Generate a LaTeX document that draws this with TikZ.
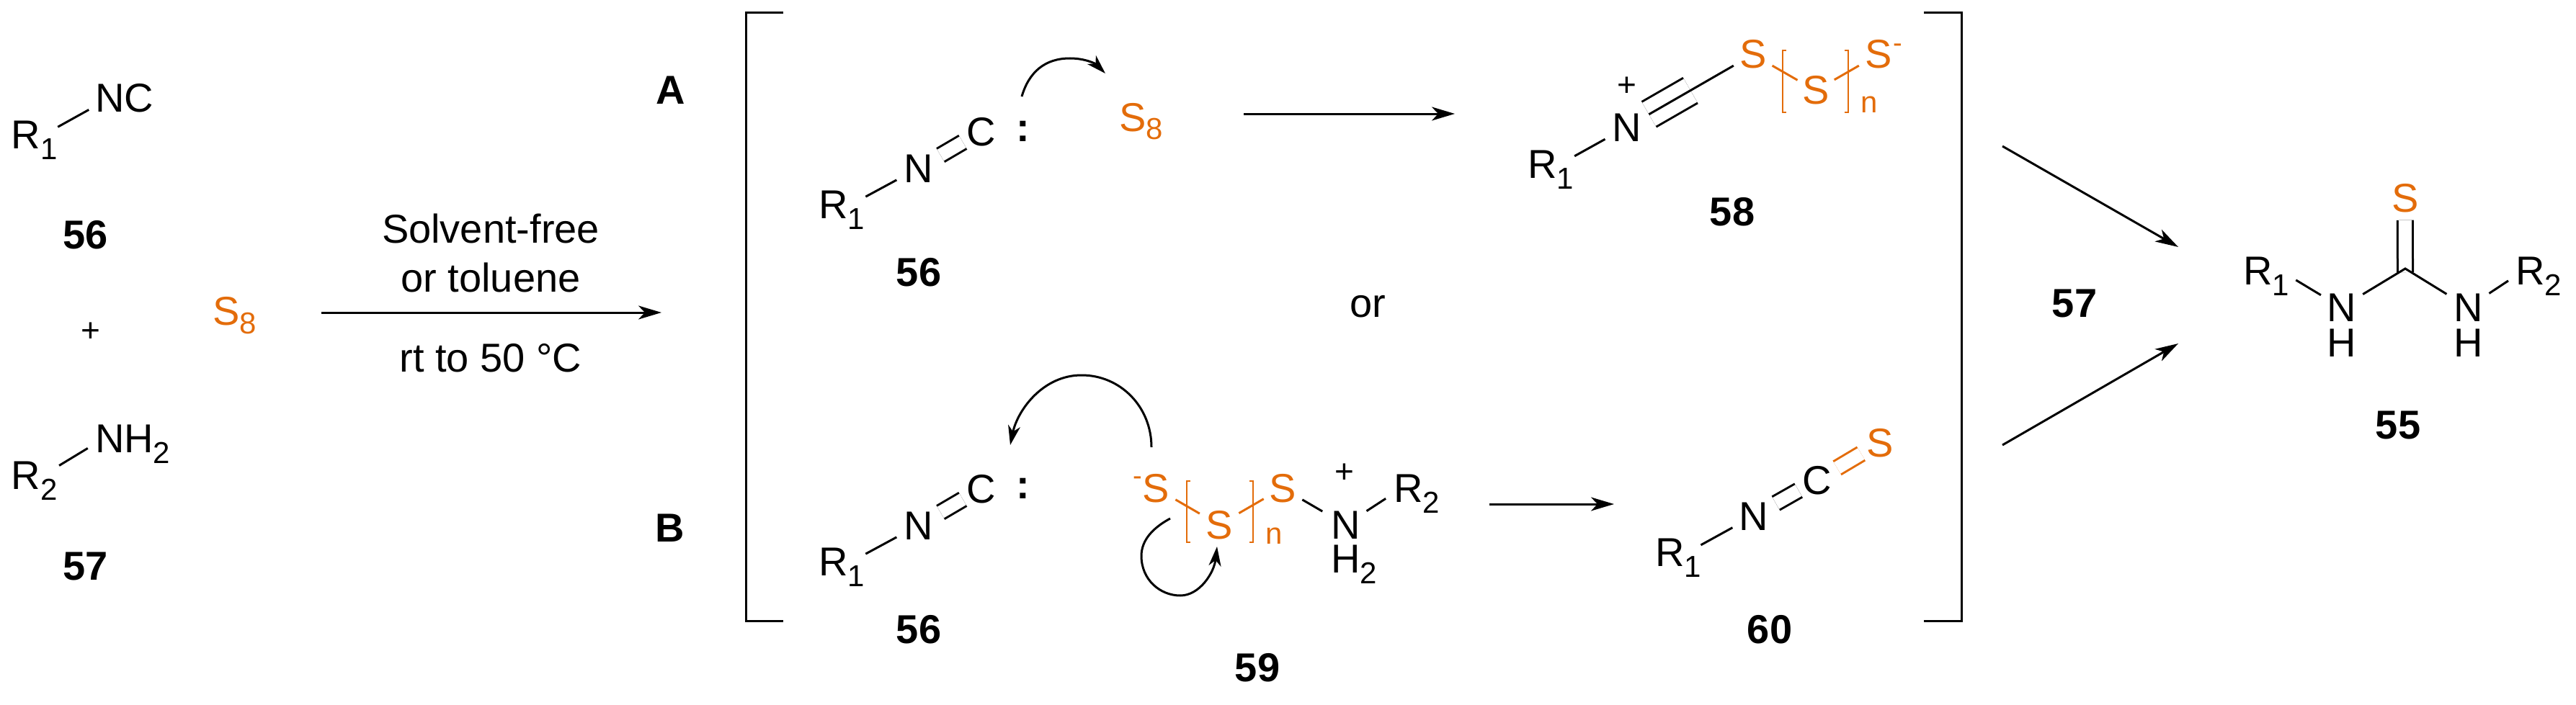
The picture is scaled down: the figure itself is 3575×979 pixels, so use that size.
\documentclass[tikz,border=0pt]{standalone}
\usepackage{fontspec}
\setmainfont{Liberation Sans}
\usetikzlibrary{arrows.meta}
\definecolor{sulfur}{HTML}{E36C0A}
\newcommand{\chemsize}{\fontsize{56}{60}\selectfont}
\newcommand{\subsize}{\fontsize{42}{42}\selectfont}
\newcommand{\sbs}[1]{\raisebox{-15pt}{\subsize #1}}
\newcommand{\sbe}[1]{\raisebox{-12pt}{\subsize #1}}
\newcommand{\bnd}[5][]{\draw[bond,shorten <=#4pt,shorten >=#5pt,#1] (#2) -- (#3);}
\tikzset{
  atom/.style={anchor=base west,inner sep=0pt,outer sep=0pt,font=\chemsize},
  sulfuratom/.style={atom,text=sulfur},
  cmpd/.style={anchor=base,inner sep=0pt,outer sep=0pt,font=\chemsize\bfseries},
  plain/.style={anchor=base,inner sep=0pt,outer sep=0pt,font=\chemsize},
  plusmark/.style={anchor=base,inner sep=0pt,outer sep=0pt,font=\fontsize{46}{46}\selectfont},
  pairdots/.style={anchor=base,inner sep=0pt,outer sep=0pt,font=\chemsize\bfseries},
  idx/.style={anchor=base west,inner sep=0pt,outer sep=0pt,font=\subsize,text=sulfur},
  bond/.style={line width=3pt},
  dbond/.style={line width=3pt,double,double distance=18pt},
  sbond/.style={draw=sulfur,line width=3pt},
  sdbond/.style={line width=3pt,draw=sulfur,double,double distance=18pt},
  polybr/.style={draw=sulfur,line width=2.6pt},
  bracket/.style={line width=3pt},
  rxn/.style={line width=3pt,-{Stealth[length=32pt,width=19pt,inset=9pt]}},
  curly/.style={line width=3pt,-{Stealth[length=27pt,width=17pt,inset=8pt]}}
}
\begin{document}
\begin{tikzpicture}[x=1pt,y=-1pt]
\useasboundingbox (0,0) rectangle (3575,979);

% ---- left column
\node[atom] (ra) at (16,206) {R\sbs{1}};
\node[atom] (nc) at (132,156) {NC};
\bnd{ra.center}{nc.195}{37}{10}
\node[cmpd] (la) at (119,345) {56};
\node[plusmark] (pl) at (126,474) {+};
\node[sulfuratom] (sa) at (295,451) {S\sbe{8}};
\node[atom] (rb) at (16,679) {R\sbs{2}};
\node[atom] (nh) at (132,628) {NH\sbs{2}};
\bnd{rb.center}{nh.west}{40}{12}
\node[cmpd] (lb) at (119,805) {57};

% ---- conditions
\coordinate (m1) at (446,434);
\coordinate (m2) at (918,434);
\draw[rxn] (m1) -- (m2);
\node[plain] (ca) at (681,337) {Solvent-free};
\node[plain] (cb) at (681,405) {or toluene};
\node[plain] (cc) at (681,516) {rt to 50 °C};
\node[cmpd] (pa) at (931,145) {A};
\node[cmpd] (pb) at (930,752) {B};

% ---- brackets
\draw[bracket] (1087,18) -- (1035,18) -- (1035,862) -- (1087,862);
\draw[bracket] (2670,18) -- (2722,18) -- (2722,862) -- (2670,862);

% ---- pathway A, isocyanide
\node[atom] (r1) at (1136,303) {R\sbs{1}};
\node[atom] (n1) at (1254,253) {N};
\node[atom] (c1) at (1341,202) {C};
\bnd{r1.center}{n1.center}{38}{34}
\bnd[dbond]{n1.center}{c1.center}{36}{29}
\node[pairdots] (d1) at (1420,196) {:};
\node[sulfuratom] (s8) at (1553,182) {S\sbe{8}};
\node[cmpd] (l1) at (1275,397) {56};
\coordinate (ca1) at (1418,134);
\coordinate (ca2) at (1534,102);
\draw[curly] (ca1) .. controls (1428,100) and (1450,81) .. (1485,81)
  .. controls (1505,81) and (1520,88) .. (ca2);
\coordinate (a1) at (1726,158);
\coordinate (a2) at (2019,158);
\draw[rxn] (a1) -- (a2);
\node[plain] (orr) at (1898,440) {or};

% ---- 58
\node[atom] (r3) at (2120,247) {R\sbs{1}};
\node[atom] (n3) at (2237,196) {N};
\node[plusmark] (p3) at (2258,134) {+};
\node[sulfuratom] (s31) at (2414,95) {S};
\node[sulfuratom] (s32) at (2501,145) {S};
\node[sulfuratom] (s33) at (2588,95) {S\rlap{\kern2pt\raisebox{22pt}{\fontsize{38}{38}\selectfont -}}};
\bnd{r3.center}{n3.center}{38}{34}
\bnd[line width=3pt,double,double distance=37pt]{n3.center}{s31.center}{36}{100}
\bnd{n3.center}{s31.center}{36}{31}
\bnd[sbond]{s31.center}{s32.center}{31}{29}
\bnd[sbond]{s32.center}{s33.center}{30}{31}
\draw[polybr] (2479,70) -- (2474,70) -- (2474,156) -- (2479,156);
\draw[polybr] (2560,70) -- (2565,70) -- (2565,156) -- (2560,156);
\node[idx] (i3) at (2582,157) {n};
\node[cmpd] (l3) at (2404,313) {58};

% ---- pathway B, isocyanide
\node[atom] (r2) at (1136,799) {R\sbs{1}};
\node[atom] (n2) at (1254,749) {N};
\node[atom] (c2) at (1341,698) {C};
\bnd{r2.center}{n2.center}{38}{34}
\bnd[dbond]{n2.center}{c2.center}{36}{29}
\node[pairdots] (d2) at (1420,692) {:};
\node[cmpd] (l2) at (1275,893) {56};

% ---- 59
\node[sulfuratom] (s41) at (1585,697) {\llap{\raisebox{24pt}{\fontsize{38}{38}\selectfont -}}S};
\node[sulfuratom] (s42) at (1673,748) {S};
\node[sulfuratom] (s43) at (1761,697) {S};
\node[atom] (n4) at (1847,748) {N};
\node[plusmark] (p4) at (1866,670) {+};
\node[atom] (r4) at (1934,697) {R\sbs{2}};
\node[atom] (h4) at (1847,795) {H\sbs{2}};
\bnd[sbond]{s41.center}{s42.center}{32}{31}
\bnd[sbond]{s42.center}{s43.center}{32}{30}
\bnd{s43.center}{n4.center}{32}{37}
\bnd{n4.center}{r4.west}{35}{13}
\draw[polybr] (1652,668) -- (1647,668) -- (1647,753) -- (1652,753);
\draw[polybr] (1734,668) -- (1739,668) -- (1739,753) -- (1734,753);
\node[idx] (i4) at (1756,755) {n};
\node[cmpd] (l4) at (1745,946) {59};
\coordinate (cb1) at (1598,621);
\coordinate (cb2) at (1402,618);
\draw[curly] (cb1) .. controls (1598,565) and (1555,521) .. (1501,521)
  .. controls (1447,521) and (1412,570) .. (cb2);
\coordinate (cc1) at (1624,720);
\coordinate (cc2) at (1689,759);
\draw[curly] (cc1) .. controls (1600,733) and (1584,750) .. (1584,772)
  .. controls (1584,805) and (1610,827) .. (1638,827)
  .. controls (1665,827) and (1685,795) .. (cc2);
\coordinate (b1) at (2067,700);
\coordinate (b2) at (2240,700);
\draw[rxn] (b1) -- (b2);

% ---- 60
\node[atom] (r5) at (2297,786) {R\sbs{1}};
\node[atom] (n5) at (2413,736) {N};
\node[atom] (c5) at (2501,686) {C};
\node[sulfuratom] (s5) at (2590,634) {S};
\bnd{r5.center}{n5.center}{36}{33}
\bnd[dbond]{n5.center}{c5.center}{36}{29}
\bnd[sdbond]{c5.center}{s5.center}{33}{30}
\node[cmpd] (l5) at (2456,893) {60};

% ---- arrows to product
\coordinate (e1) at (2779,203);
\coordinate (e2) at (2779,618);
\coordinate (e3) at (3023,343);
\coordinate (e4) at (3023,477);
\draw[rxn] (e1) -- (e3);
\draw[rxn] (e2) -- (e4);
\node[cmpd] (l7) at (2879,440) {57};

% ---- 55
\coordinate (c6) at (3338,373);
\node[atom] (r6) at (3113,395) {R\sbs{1}};
\node[atom] (n6) at (3229,446) {N};
\node[atom] (h6) at (3229,495) {H};
\node[atom] (n7) at (3405,446) {N};
\node[atom] (h7) at (3405,495) {H};
\node[atom] (r7) at (3491,395) {R\sbs{2}};
\node[sulfuratom] (s6) at (3319,294) {S};
\bnd[dbond]{c6}{s6.center}{-5}{31}
\bnd{r6.east}{n6.center}{11}{33}
\draw[bond,shorten <=35pt,shorten >=35pt] (n6.center) -- (c6) -- (n7.center);
\bnd{n7.center}{r7.west}{35}{12}
\node[cmpd] (l6) at (3328,609) {55};
\end{tikzpicture}
\end{document}
